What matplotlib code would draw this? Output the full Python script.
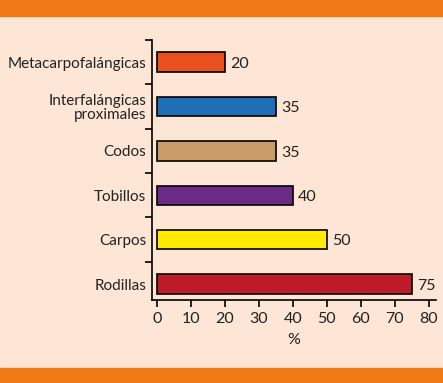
import numpy as np
import matplotlib.pyplot as plt
from matplotlib.patches import Rectangle

categories = ["Metacarpofalángicas", "Interfalángicas\nproximales", "Codos",
              "Tobillos", "Carpos", "Rodillas"]
values = [20, 35, 35, 40, 50, 75]
colors = ["#E9501F", "#1F6FB7", "#C99C69", "#6B2A86", "#FFEB00", "#BE1A27"]
xticks = [0, 10, 20, 30, 40, 50, 60, 70, 80]

bg = "#FDE6D5"
band = "#F07A15"

plt.rcParams["font.family"] = ["Lato", "DejaVu Sans"]

fig = plt.figure(figsize=(4.43, 3.83), dpi=100, facecolor=bg)
fig.add_artist(Rectangle((0, 1 - 16 / 383), 1, 16 / 383, transform=fig.transFigure,
                         color=band, zorder=0))
fig.add_artist(Rectangle((0, 0), 1, 15 / 383, transform=fig.transFigure,
                         color=band, zorder=0))

ax = fig.add_axes([152 / 443, 1 - 300 / 383, 284 / 443, 260 / 383])
ax.set_facecolor(bg)

y = np.arange(len(categories))
bars = ax.barh(y, values, height=0.44, color=colors, edgecolor="black", linewidth=1.2)
for rect, v in zip(bars, values):
    ax.text(v + 1.5, rect.get_y() + rect.get_height() / 2 + 0.04, str(v),
            va="center", ha="left", fontsize=11.5, color="#222222")

ax.set_ylim(len(categories) - 0.64, -0.5)
ax.set_xlim(-1.55, 82.2)
ax.set_yticks(y)
ax.set_yticklabels(categories, fontsize=11, color="#222222", linespacing=1.0)
ax.set_yticks(np.arange(-0.5, len(categories) - 1, 1), minor=True)
ax.tick_params(axis="y", which="major", length=0, pad=4)
ax.tick_params(axis="y", which="minor", length=5, width=1.2, direction="out")
ax.set_xticks(xticks)
ax.tick_params(axis="x", labelsize=11.5, length=5, width=1.2, colors="black",
               labelcolor="#222222")
ax.set_xlabel("%", fontsize=11.5, color="#222222", labelpad=5)

for side in ["top", "right"]:
    ax.spines[side].set_visible(False)
for side in ["left", "bottom"]:
    ax.spines[side].set_linewidth(1.2)

fig.savefig("out.png", dpi=100, facecolor=bg)
